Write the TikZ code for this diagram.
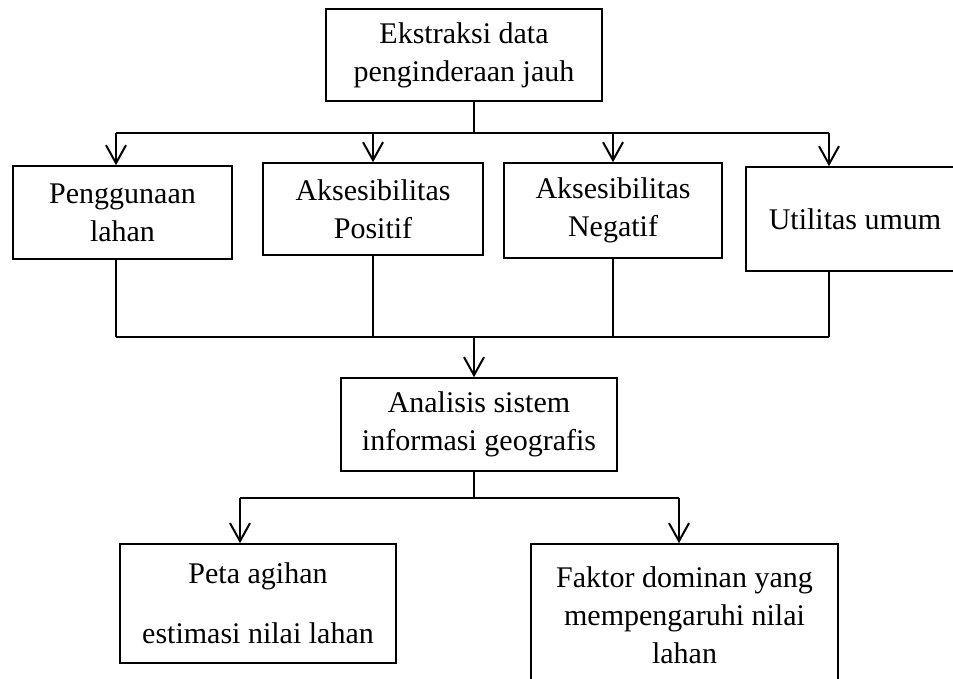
\documentclass[tikz,border=0pt]{standalone}
\usepackage{fontspec}
\setmainfont{Liberation Serif}
\usetikzlibrary{arrows.meta}

\begin{document}
\begin{tikzpicture}[x=0.5pt, y=-0.5pt,
    box/.style={draw, line width=0.8pt, align=center, inner sep=0pt, font=\fontsize{15}{19}\selectfont},
    link/.style={line width=1pt},
    arr/.style={line width=1pt, -{Straight Barb[length=9pt, width=10pt]}}]
    \useasboundingbox (0,0) rectangle (953,679);

    % Boxes
    \node[box, minimum width=138pt, minimum height=46pt] (eks) at (464,55) {Ekstraksi data\\penginderaan jauh};
    \node[box, minimum width=109.5pt, minimum height=46.5pt] (pl) at (122.5,212.5) {Penggunaan\\lahan};
    \node[box, minimum width=110pt, minimum height=46pt] (ap) at (373,209) {Aksesibilitas\\Positif};
    \node[box, minimum width=109pt, minimum height=47.5pt] (an) at (613,210.5) {Aksesibilitas\\Negatif};
    \node[box, minimum width=109pt, minimum height=52pt] (uu) at (855,219) {Utilitas umum};
    \node[box, minimum width=138pt, minimum height=46.5pt] (ana) at (479,424.5) {Analisis sistem\\informasi geografis};
    \node[box, minimum width=138pt, minimum height=59.5pt] (peta) at (258,603.5) {Peta agihan\\[11pt]estimasi nilai lahan};
    \node[box, minimum width=153.5pt, minimum height=71pt] (fak) at (684.5,615) {Faktor dominan yang\\mempengaruhi nilai\\lahan};

    % Upper bus
    \coordinate (top) at (474,133);
    \coordinate (busL) at (116,133);
    \coordinate (busR) at (829,133);
    \draw[link] (eks.south -| top) -- (top);
    \draw[link] (busL) -- (busR);
    \draw[arr] (busL) -- (busL |- pl.north);
    \draw[arr] (ap.north |- busL) -- (ap.north);
    \draw[arr] (an.north |- busL) -- (an.north);
    \draw[arr] (busR) -- (busR |- uu.north);

    % Lower bus
    \coordinate (mid) at (474,337);
    \coordinate (lowL) at (116,337);
    \coordinate (lowR) at (829,337);
    \draw[link] (busL |- pl.south) -- (lowL);
    \draw[link] (ap.south) -- (ap.south |- lowL);
    \draw[link] (an.south) -- (an.south |- lowL);
    \draw[link] (busR |- uu.south) -- (lowR);
    \draw[link] (lowL) -- (lowR);
    \draw[arr] (mid) -- (ana.north -| mid);

    % Output bus
    \coordinate (sub) at (474,498);
    \coordinate (subL) at (240,498);
    \coordinate (subR) at (679,498);
    \draw[link] (ana.south -| sub) -- (sub);
    \draw[link] (subL) -- (subR);
    \draw[arr] (subL) -- (subL |- peta.north);
    \draw[arr] (subR) -- (subR |- fak.north);
\end{tikzpicture}
\end{document}
